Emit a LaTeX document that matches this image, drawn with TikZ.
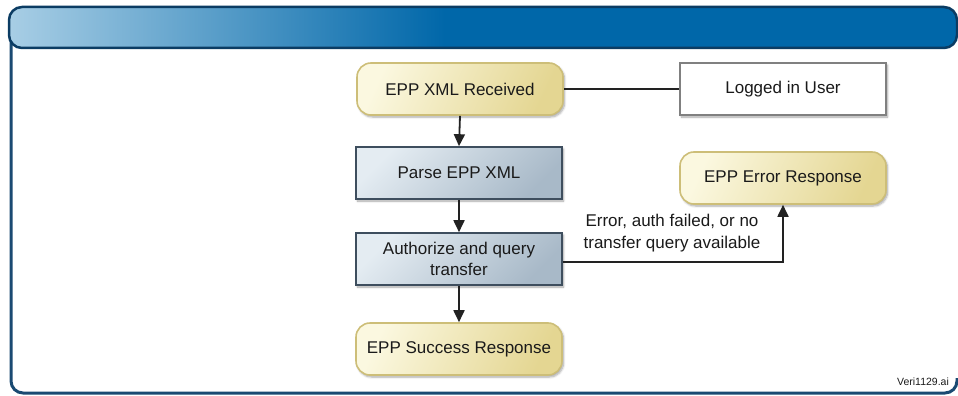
\documentclass[tikz,border=0pt]{standalone}
\usepackage{fontspec}
\setmainfont{Liberation Sans}
\usetikzlibrary{arrows.meta,shadows,shadows.blur}
\definecolor{hdrL}{HTML}{A8CEE5}
\definecolor{hdrD}{HTML}{0067A9}
\definecolor{hdrB}{HTML}{0B3C63}
\definecolor{frameC}{HTML}{1A4A72}
\definecolor{yelL}{HTML}{FBF8E0}
\definecolor{yelD}{HTML}{E4D692}
\definecolor{yelB}{HTML}{CDBE78}
\definecolor{bluL}{HTML}{E4ECF2}
\definecolor{bluD}{HTML}{A8B9C8}
\definecolor{bluB}{HTML}{3E4E5E}
\definecolor{txt}{HTML}{1A1A1A}
\definecolor{arr}{HTML}{222222}
\pgfdeclarehorizontalshading{hdrshade}{100bp}{color(0bp)=(hdrL); color(25bp)=(hdrL); color(48bp)=(hdrD); color(100bp)=(hdrD)}
\tikzset{
  basebox/.style={minimum width=206pt, minimum height=52pt, inner sep=0pt, align=center,
    text=txt, font=\fontsize{17}{21}\selectfont,
    blur shadow={shadow xshift=1.5pt, shadow yshift=-2pt, shadow opacity=35, shadow blur steps=6}},
  yelbox/.style={basebox, rounded corners=14pt, draw=yelB, line width=1.6pt,
    top color=yelD, bottom color=yelL, shading angle=-115},
  blubox/.style={basebox, draw=bluB, line width=1.6pt,
    top color=bluD, bottom color=bluL, shading angle=-135},
  whtbox/.style={basebox, draw=black!50, line width=1.6pt, fill=white},
  flow/.style={draw=arr, line width=1.8pt, -{Triangle[length=12pt,width=11pt]}},
  plainline/.style={draw=arr, line width=1.8pt},
  lbl/.style={text=txt, font=\fontsize{17}{22}\selectfont, align=center, inner sep=0pt}
}
\begin{document}
\begin{tikzpicture}[x=1pt,y=-1pt]
\useasboundingbox (0,0) rectangle (958,396);
% frame
\draw[frameC, line width=3pt, rounded corners=12pt] (11,40) -- (11,393) -- (957,393) -- (957,378);
% header
\shade[shading=hdrshade, rounded corners=13pt] (9,7) rectangle (957,48);
\draw[hdrB, line width=2.5pt, rounded corners=13pt] (9,7) rectangle (957,48);
% nodes
\node[yelbox] (recv) at (460,89) {EPP XML Received};
\node[whtbox] (user) at (783,89) {Logged in User};
\node[blubox] (parse) at (459,173) {Parse EPP XML};
\node[blubox] (auth) at (459,259) {Authorize and query\\transfer};
\node[yelbox] (succ) at (459,349) {EPP Success Response};
\node[yelbox] (err) at (783,178) {EPP Error Response};
% connectors
\draw[plainline] (recv.east) -- (user.west);
\draw[flow] (recv.south) -- (parse.north);
\draw[flow] (parse.south) -- (auth.north);
\draw[flow] (auth.south) -- (succ.north);
\coordinate (turn) at (err.south |- 0,262);
\coordinate (start) at (auth.east |- 0,262);
\draw[flow] (start) -- (turn) -- (err.south);
\node[lbl] (elbl) at (672,233) {Error, auth failed, or no\\transfer query available};
\node[text=txt, font=\fontsize{10.5}{12}\selectfont, inner sep=0pt] (tag) at (923,382) {Veri1129.ai};
\end{tikzpicture}
\end{document}
